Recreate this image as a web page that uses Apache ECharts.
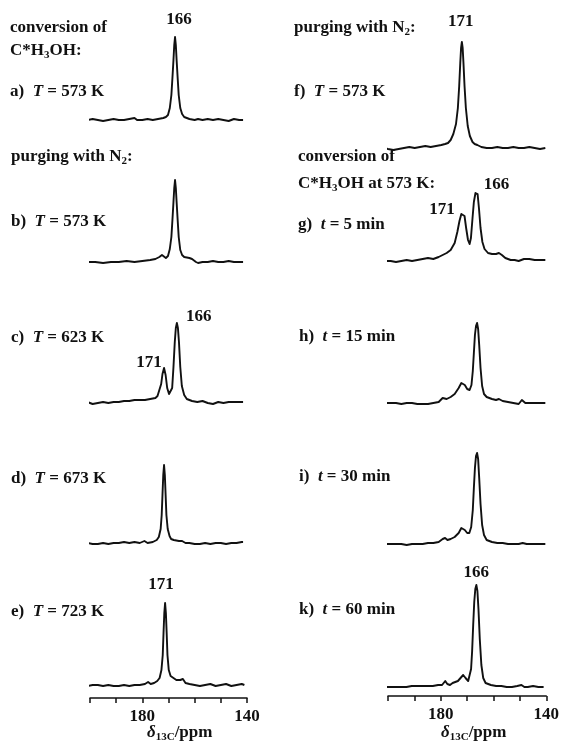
<!DOCTYPE html>
<html>
<head>
<meta charset="utf-8">
<script src="https://cdn.jsdelivr.net/npm/echarts@6/dist/echarts.min.js"></script>
<style>
  html, body { margin: 0; padding: 0; background: #fff; }
  #main { width: 562px; height: 755px; }
</style>
</head>
<body>
<div id="main"></div>
<script>
// spectra as [ppm, intensity] (intensity in arbitrary units)
const spectrumA = [[201,0],[199,1],[197,0],[195,-1],[193,0],[191,1],[189,0],[187,0],[185,1],[183,2],[182,0],[180,0],[178,1],[176,0],[174,1],[172,2],[171,3],[170.2,5],[169.5,12],[168.9,25],[168.5,42],[168.1,60],[167.8,75],[167.5,83],[167.2,75],[166.9,60],[166.5,42],[166.1,25],[165.5,12],[164.8,6],[164,3],[163,2],[162,1],[160,0],[158.7,1],[157,0],[155,1],[153,0],[151,1],[149,0],[147,-1],[145,1],[143,0],[141.5,0]];
const spectrumB = [[201,0],[198,0],[195,-1],[192,0],[189,0],[186,1],[183,0],[180,1],[177,2],[175,3],[173.5,5],[172.5,7],[171.8,6],[171,4],[170.2,6],[169.5,13],[168.9,25],[168.5,42],[168.1,60],[167.8,74],[167.5,82],[167.2,74],[166.9,60],[166.5,42],[166.1,25],[165.5,12],[164.8,7],[164,5],[162,4],[161,3],[159.5,0],[158.7,-1],[157,0],[155,0],[153,1],[151,0],[149,0],[147,1],[145,0],[143,0],[141.5,0]];
const spectrumC = [[201,0],[199,-2],[197,-1],[195,0],[193,-1],[191,0],[189,0],[187,1],[185,1],[183,2],[181,2],[179,2],[177,3],[175,4],[174.2,6],[173.5,8],[172.8,18],[172.3,28],[171.7,34],[171.1,27],[170.5,14],[169.8,8],[169.2,7],[168.6,14],[168.1,35],[167.6,60],[167.2,74],[166.8,79],[166.4,74],[166,60],[165.5,35],[164.9,16],[164,7],[163,3],[161,1],[159,0],[157,1],[155,-1],[153,-2],[151,0],[149,-1],[147,0],[145,0],[143,0],[141.5,0]];
const spectrumD = [[201,0],[199,-1],[197,-1],[195,0],[193,-1],[191,0],[189,0],[187,1],[185,0],[183,1],[181,0],[179.2,2],[178,0],[176,1],[174.5,3],[173.7,6],[173,14],[172.6,28],[172.3,48],[172,68],[171.7,78],[171.4,68],[171.1,48],[170.8,28],[170.3,14],[169.6,7],[169,4],[168,3],[166,2],[164.8,2],[163.5,0],[162,0],[160,-1],[158,-1],[156,0],[154,-1],[152,0],[150,0],[148,-1],[146,0],[144,0],[142,1],[141.5,1]];
const spectrumE = [[201,-1],[199,0],[197,0],[195,-1],[193,0],[191,-1],[189,-1],[187,0],[185,-1],[183,0],[181,0],[179,1],[177.8,3],[176.8,1],[175.5,2],[174.3,4],[173.4,7],[172.7,15],[172.2,30],[171.9,52],[171.6,72],[171.3,82],[171,72],[170.7,52],[170.4,30],[169.9,15],[169.2,9],[168.5,7],[167,5],[165.5,5],[164.5,6],[163.5,2],[162,1],[160,0],[158,-1],[156,0],[154,1],[152,-1],[150,0],[148,1],[146,-1],[144,0],[142,1],[141,0]];
const spectrumF = [[201.5,0],[200,-1],[198,-2],[196,-1],[194,0],[192,1],[190,0],[188,1],[186,2],[184,1],[182,2],[180,3],[178.6,4],[177.5,5],[176.5,8],[175.5,14],[174.5,24],[173.8,40],[173.3,62],[172.9,85],[172.6,100],[172.3,106],[172,100],[171.7,85],[171.3,62],[170.8,40],[170.1,22],[169.3,12],[168.3,6],[167.5,4],[166.5,3],[165,1],[163,0],[161,0],[159,1],[157,0],[155,0],[153,1],[151,0],[149,0],[147,1],[145,0],[143,-1],[141,0]];
const spectrumG = [[201.5,-1],[199,-1],[197,-2],[195,-1],[193,0],[191,-1],[189,0],[187,1],[185,2],[183,1],[181,3],[179.5,5],[178,7],[176.5,10],[175,17],[174,28],[173.2,39],[172.5,46],[171.9,48],[171.3,44],[170.7,32],[170,20],[169.4,16],[168.9,22],[168.3,42],[167.8,58],[167.2,67],[166.8,69],[166.4,66],[165.9,52],[165.3,32],[164.6,18],[163.8,11],[162.5,7],[161,6],[159.5,6],[158.4,7],[157.3,5],[156,2],[154,0],[152.5,0],[151,-1],[149,1],[147,1],[145,0],[143,0],[141,0]];
const spectrumH = [[201.5,0],[199,0],[197,0],[195,-1],[193,0],[191,0],[189,-1],[187,-1],[185,-1],[183,0],[181,1],[179.5,5],[178.8,6],[178,4],[176.5,6],[175,9],[173.5,15],[172.5,20],[171.9,21],[171.2,18],[170.3,14],[169.4,13],[168.7,18],[168.2,32],[167.8,50],[167.4,68],[167,77],[166.6,80],[166.2,74],[165.8,58],[165.3,35],[164.7,17],[164,9],[163,6],[162,5],[161,4],[159.5,3],[158.4,4],[157,2],[155,1],[153,0],[151,-1],[149.8,3],[148.5,0],[147,0],[145,0],[143,0],[141,0]];
const spectrumI = [[201.5,0],[199,0],[197,0],[195,0],[193,-1],[191,0],[189,0],[187,0],[185,1],[183,1],[181,2],[179.5,5],[178.6,6],[177.7,4],[176.5,5],[175,7],[173.5,11],[172.5,16],[171.9,17],[171.2,14],[170.3,11],[169.5,11],[168.8,17],[168.2,34],[167.8,56],[167.4,76],[167,88],[166.6,91],[166.2,85],[165.8,66],[165.3,40],[164.7,19],[164,9],[163,4],[162,3],[161,2],[159,1],[157,1],[155,0],[153,0],[151,0],[149.5,1],[148,0],[146,0],[144,0],[142,0],[141,0]];
const spectrumK = [[201.5,0],[199,0],[197,0],[195,0],[193,0],[191,1],[189,1],[187,1],[185,1],[183,1],[181,2],[179.5,2],[178.3,6],[177.5,3],[176.5,2],[175.5,4],[174.5,5],[173.5,6],[172.5,9],[171.5,12],[170.6,9],[169.6,6],[169,8],[168.5,18],[168.1,36],[167.7,62],[167.3,85],[166.9,98],[166.5,102],[166.1,96],[165.7,78],[165.2,48],[164.6,22],[163.9,9],[163,4],[162,3],[161,2],[159,1],[157,1],[155,0],[153,0],[151,1],[149.4,2],[148.3,0],[147,0],[145,1],[143,0],[141,0]];

// ppm axis
const ppmMin = 140;
const ppmMax = 200;
const ppmTickStep = 10;
const ppmShownLabels = [180, 140];

const FONT = 'Liberation Serif';
const INK = '#111';

// layout: baseline pixel row for each spectrum, column, gap to the axis line
const panels = [
  { data: spectrumA, col: 0, base: 120, gap: 13, axis: false, peaks: [{ t: '166', at: [167.5, 83], off: [4, -17] }] },
  { data: spectrumB, col: 0, base: 262, gap: 13, axis: false, peaks: [] },
  { data: spectrumC, col: 0, base: 402, gap: 13, axis: false, peaks: [{ t: '166', at: [166.8, 79], off: [22, -6] }, { t: '171', at: [171.7, 34], off: [-15, -5] }] },
  { data: spectrumD, col: 0, base: 543, gap: 13, axis: false, peaks: [] },
  { data: spectrumE, col: 0, base: 685, gap: 13, axis: true, peaks: [{ t: '171', at: [171.3, 82], off: [-4, -18] }] },
  { data: spectrumF, col: 1, base: 148, gap: 13, axis: false, peaks: [{ t: '171', at: [172.3, 106], off: [-1, -20] }] },
  { data: spectrumG, col: 1, base: 260, gap: 13, axis: false, peaks: [{ t: '166', at: [166.8, 69], off: [20, -6] }, { t: '171', at: [171.9, 48], off: [-21, -2] }] },
  { data: spectrumH, col: 1, base: 403, gap: 13, axis: false, peaks: [] },
  { data: spectrumI, col: 1, base: 544, gap: 13, axis: false, peaks: [] },
  { data: spectrumK, col: 1, base: 687, gap: 9, axis: true, peaks: [{ t: '166', at: [166.5, 102], off: [0, -12] }] },
];
const colLeft = [90, 388];
const colWidth = [157, 160];
const TOP = 110;

const grid = [], xAxis = [], yAxis = [], series = [];
panels.forEach((p, i) => {
  grid.push({ left: colLeft[p.col], width: colWidth[p.col], top: p.base - TOP, height: TOP + p.gap });
  xAxis.push({
    gridIndex: i, type: 'value', min: ppmMin, max: ppmMax, interval: ppmTickStep, inverse: true,
    show: p.axis,
    axisLine: { onZero: false, lineStyle: { color: INK, width: 1.5 } },
    axisTick: { length: 5, lineStyle: { color: INK, width: 1.5 } },
    splitLine: { show: false },
    axisLabel: {
      margin: 10, showMinLabel: true, showMaxLabel: true,
      color: INK, fontFamily: FONT, fontWeight: 'bold', fontSize: 17,
      formatter: (v) => (ppmShownLabels.includes(v) ? String(v) : ''),
    },
  });
  yAxis.push({ gridIndex: i, type: 'value', min: -p.gap, max: TOP, show: false });
  series.push({
    type: 'line', xAxisIndex: i, yAxisIndex: i, data: p.data,
    showSymbol: false, clip: false, silent: true, animation: false,
    lineStyle: { color: INK, width: 1.9, join: 'round' },
    markPoint: {
      symbol: 'circle', symbolSize: 0, silent: true, animation: false,
      data: p.peaks.map((pk) => ({
        coord: pk.at,
        label: { show: true, position: 'inside', formatter: pk.t, offset: pk.off, color: INK, fontFamily: FONT, fontWeight: 'bold', fontSize: 17 },
      })),
    },
  });
});

const rich = {
  b: { fontFamily: FONT, fontWeight: 'bold', fontSize: 17, color: INK },
  i: { fontFamily: FONT, fontWeight: 'bold', fontStyle: 'italic', fontSize: 17, color: INK },
  s: { fontFamily: FONT, fontWeight: 'bold', fontSize: 11, color: INK, padding: [8, 0, 0, 0] },
};
function txt(x, y, text) {
  return { type: 'text', x: x, y: y, silent: true, style: { text: text, rich: rich, verticalAlign: 'middle', fill: INK } };
}

const texts = [
  txt(10, 28, '{b|conversion of}'),
  txt(10, 51, '{b|C*H}{s|3}{b|OH:}'),
  txt(10, 92, '{b|a)  }{i|T}{b| = 573 K}'),
  txt(11, 157, '{b|purging with N}{s|2}{b|:}'),
  txt(11, 222, '{b|b)  }{i|T}{b| = 573 K}'),
  txt(11, 338, '{b|c)  }{i|T}{b| = 623 K}'),
  txt(11, 479, '{b|d)  }{i|T}{b| = 673 K}'),
  txt(11, 612, '{b|e)  }{i|T}{b| = 723 K}'),
  txt(294, 28, '{b|purging with N}{s|2}{b|:}'),
  txt(294, 92, '{b|f)  }{i|T}{b| = 573 K}'),
  txt(298, 157, '{b|conversion of}'),
  txt(298, 184, '{b|C*H}{s|3}{b|OH at 573 K:}'),
  txt(298, 225, '{b|g)  }{i|t}{b| = 5 min}'),
  txt(299, 337, '{b|h)  }{i|t}{b| = 15 min}'),
  txt(299, 477, '{b|i)  }{i|t}{b| = 30 min}'),
  txt(299, 610, '{b|k)  }{i|t}{b| = 60 min}'),
  txt(147, 733, '{i|δ}{s|13C}{b|/ppm}'),
  txt(441, 733, '{i|δ}{s|13C}{b|/ppm}'),
];

const myChart = echarts.init(document.getElementById('main'));
myChart.setOption({
  animation: false,
  backgroundColor: '#fff',
  grid: grid,
  xAxis: xAxis,
  yAxis: yAxis,
  series: series,
  graphic: texts,
});
</script>
</body>
</html>
